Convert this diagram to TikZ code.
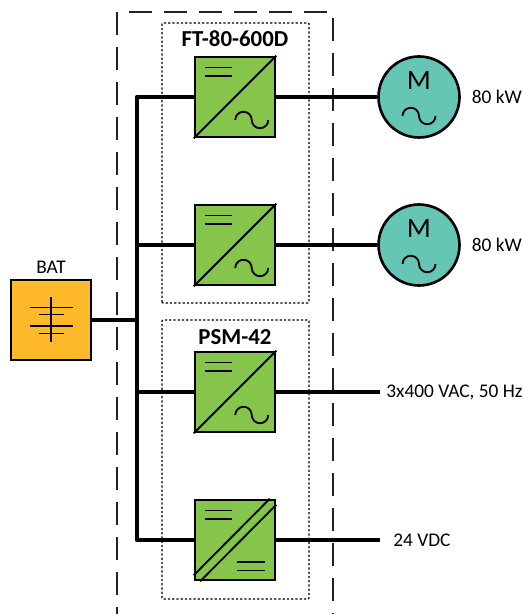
\documentclass[tikz,border=0pt]{standalone}
\usepackage{fontspec}
\setmainfont{Carlito}
\usepackage{xcolor}
\usetikzlibrary{calc}
\definecolor{convgreen}{HTML}{85C54B}
\definecolor{motorteal}{HTML}{66C6B6}
\definecolor{batyellow}{HTML}{FDB92B}
\definecolor{framegray}{HTML}{222222}

\begin{document}
\begin{tikzpicture}[
  x=1cm,y=1cm,
  conv/.style={draw,fill=convgreen,line width=1.5pt,minimum size=1.6cm,inner sep=0pt},
  motor/.style={circle,draw,fill=motorteal,line width=1.5pt,minimum size=1.62cm,inner sep=0pt},
  batbox/.style={draw,fill=batyellow,line width=1.5pt,minimum size=1.6cm,inner sep=0pt},
  busline/.style={line width=2.4pt,line join=round},
  outframe/.style={draw=framegray,line width=0.85pt,dash pattern=on 0.46cm off 0.24cm},
  group/.style={draw,line width=0.7pt,rounded corners=0.5pt,dash pattern=on 0.045cm off 0.04cm},
  title/.style={font=\fontsize{13}{15}\selectfont\bfseries,inner sep=0pt},
  rating/.style={anchor=west,font=\fontsize{11}{13}\selectfont,inner sep=0pt},
  symbol/.style={line width=1.05pt},
  sine/.pic={\draw[symbol] (-0.33,0) arc[start angle=180,end angle=0,radius=0.165]
    arc[start angle=180,end angle=360,radius=0.165];},
  bars/.pic={\draw[symbol] (-0.275,0.085) -- (0.275,0.085) (-0.275,-0.085) -- (0.275,-0.085);}
]
\useasboundingbox (0,0) rectangle (10.46,12.28);
% cabinet frame, open towards the bottom edge
\draw[outframe] (2.34,12.04) -- (2.34,0);
\draw[outframe,dash phase=0.46cm] (2.34,12.04) -- (6.66,12.04) -- (6.66,0);
% converter groups
\draw[group] (3.24,6.22) rectangle (6.18,11.82);
\draw[group] (3.24,0.30) rectangle (6.18,5.88);
\node[title] (ftname) at (4.70,11.50) {FT-80-600D};
\node[title] (psmname) at (4.70,5.54) {PSM-42};

% converters
\node[conv] (conv1) at (4.70,10.34) {};
\node[conv] (conv2) at (4.70,7.38) {};
\node[conv] (conv3) at (4.70,4.44) {};
\node[conv] (conv4) at (4.70,1.48) {};
\draw[symbol] (conv1.south west) -- (conv1.north east);
\draw[symbol] (conv2.south west) -- (conv2.north east);
\draw[symbol] (conv3.south west) -- (conv3.north east);
\draw[symbol] ($(conv4.south west)+(0,0.12)$) -- ($(conv4.north east)+(-0.13,0)$);
\draw[symbol] ($(conv4.south west)+(0.13,0)$) -- ($(conv4.north east)+(0,-0.12)$);
\pic at ($(conv1.center)+(-0.33,0.505)$) {bars};
\pic at ($(conv2.center)+(-0.33,0.505)$) {bars};
\pic at ($(conv3.center)+(-0.33,0.505)$) {bars};
\pic at ($(conv4.center)+(-0.33,0.505)$) {bars};
\pic at ($(conv1.center)+(0.335,-0.46)$) {sine};
\pic at ($(conv2.center)+(0.335,-0.46)$) {sine};
\pic at ($(conv3.center)+(0.335,-0.46)$) {sine};
\pic at ($(conv4.center)+(0.315,-0.525)$) {bars};

% motors
\node[motor] (motor1) at (8.38,10.34) {};
\node[motor] (motor2) at (8.38,7.38) {};
\node[font=\fontsize{16}{18}\selectfont,inner sep=0pt] (m1) at ($(motor1.center)+(0,0.34)$) {M};
\node[font=\fontsize{16}{18}\selectfont,inner sep=0pt] (m2) at ($(motor2.center)+(0,0.34)$) {M};
\pic at ($(motor1.center)+(0,-0.38)$) {sine};
\pic at ($(motor2.center)+(0,-0.38)$) {sine};
\node[rating] (kw1) at (9.43,10.34) {80 kW};
\node[rating] (kw2) at (9.43,7.38) {80 kW};

% battery
\node[batbox] (bat) at (1.02,5.88) {};
\node[font=\fontsize{11}{13}\selectfont,inner sep=0pt] (batname) at (1.02,6.94) {BAT};
\draw[symbol] ($(bat.center)+(0,0.45)$) -- ($(bat.center)+(0,-0.45)$);
\draw[symbol] ($(bat.center)+(-0.43,0.25)$) -- ($(bat.center)+(0.43,0.25)$);
\draw[symbol] ($(bat.center)+(-0.25,0.11)$) -- ($(bat.center)+(0.25,0.11)$);
\draw[symbol] ($(bat.center)+(-0.43,-0.12)$) -- ($(bat.center)+(0.43,-0.12)$);
\draw[symbol] ($(bat.center)+(-0.25,-0.27)$) -- ($(bat.center)+(0.25,-0.27)$);

% bus and feeders
\coordinate (bus1) at (2.74,10.34);
\coordinate (bus2) at (2.74,7.38);
\coordinate (busbat) at (2.74,5.88);
\coordinate (bus3) at (2.74,4.44);
\coordinate (bus4) at (2.74,1.48);
\coordinate (acend) at (7.60,4.44);
\coordinate (dcend) at (7.60,1.48);
\draw[busline] (conv1.west) -- (bus1) -- (bus4) -- (conv4.west);
\draw[busline] (conv2.west) -- (bus2);
\draw[busline] (conv3.west) -- (bus3);
\draw[busline] (bat.east) -- (busbat);
\draw[busline] (conv1.east) -- (motor1.west);
\draw[busline] (conv2.east) -- (motor2.west);
\draw[busline] (conv3.east) -- (acend);
\draw[busline] (conv4.east) -- (dcend);
\node[rating] (acout) at (7.72,4.44) {3x400 VAC, 50 Hz};
\node[rating] (dcout) at (7.86,1.48) {24 VDC};
\end{tikzpicture}
\end{document}
